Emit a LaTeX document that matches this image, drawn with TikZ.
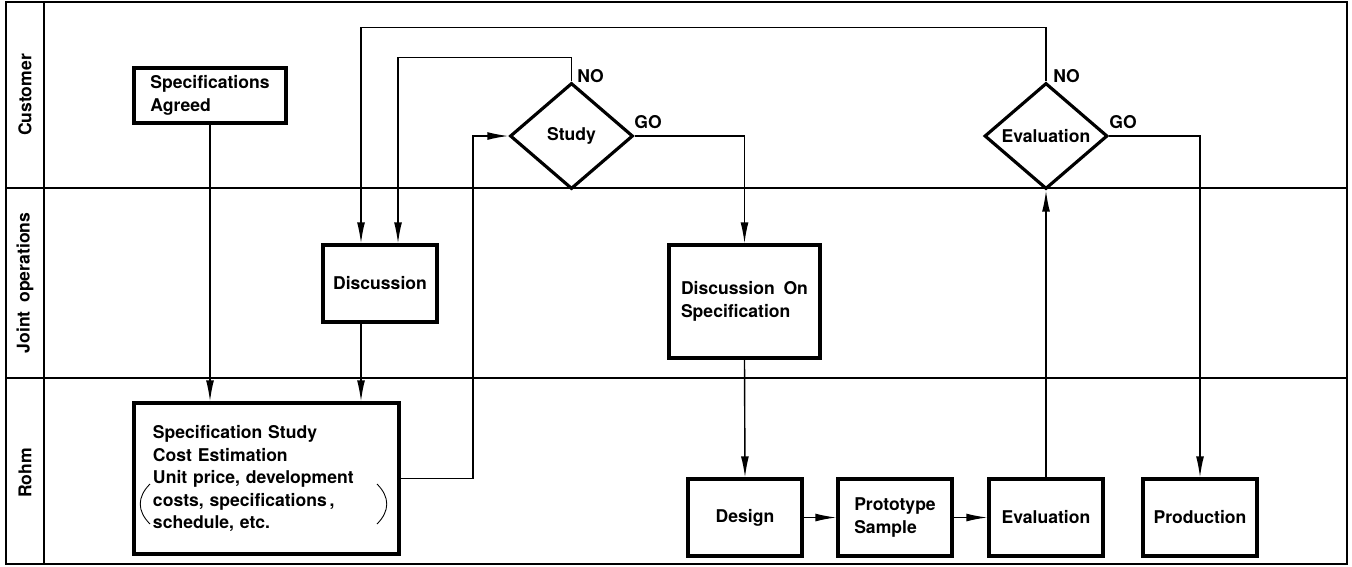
\documentclass[tikz,border=0pt]{standalone}
\usepackage{fontspec}
\setmainfont[WordSpace=1.8]{TeX Gyre Heros}
\usetikzlibrary{shapes,arrows.meta}

\begin{document}
\begin{tikzpicture}[x=0.2mm,y=-0.2mm,
  every node/.style={font=\fontsize{10}{12.8}\selectfont\bfseries},
  box/.style={draw, line width=1.8pt, minimum width=2.28cm, minimum height=1.54cm, inner sep=0pt},
  decision/.style={draw, diamond, line width=1.8pt, minimum width=2.46cm, minimum height=2.12cm, inner sep=0pt, shape aspect=1.16},
  flow/.style={line width=0.8pt, -{Latex[length=12pt,width=4.5pt]}},
  lane/.style={rotate=90, inner sep=0pt},
  answer/.style={anchor=base west, inner sep=0pt}]
\useasboundingbox (0,0) rectangle (1352,566);

% frame and lanes
\draw[line width=1.5pt] (6,2) rectangle (1347,564);
\draw[line width=0.6pt] (44,2) -- (44,564);
\draw[line width=0.6pt] (6,188) -- (1347,188);
\draw[line width=0.6pt] (6,378) -- (1347,378);

\node[lane] (customer) at (25,95) {Customer};
\node[lane] (joint) at (25,283) {Joint operations};
\node[lane] (rohm) at (25,473) {Rohm};

% steps
\node[box, minimum width=3.04cm, minimum height=1.1cm, align=left] (agreed) at (210,95.5) {Specifications\\Agreed};
\node[box] (disc) at (380,283.5) {Discussion};
\node[box, minimum width=5.3cm, minimum height=3.02cm, align=left, text width=4.54cm] (spec) at (266.5,478.5)
  {Specification Study\\Cost Estimation\\Unit price, development\\costs, specifications\,,\\schedule, etc.};
\node[decision] (study) at (571.5,136) {Study};
\node[box, minimum width=3.02cm, minimum height=2.26cm, align=left] (discspec) at (744.5,301.5) {Discussion On\\Specification};
\node[box] (design) at (745,517.5) {Design};
\node[box, align=left] (proto) at (895,517.5) {Prototype\\Sample};
\node[box] (evalb) at (1046,517.5) {Evaluation};
\node[decision] (evald) at (1046,136) {Evaluation};
\node[box] (prod) at (1200,517.5) {Production};

% brackets round the cost items
\draw[line width=0.5pt] (150,484) .. controls (137,497) and (137,511) .. (150,524);
\draw[line width=0.5pt] (377,484) .. controls (390,497) and (390,511) .. (377,524);

\node[answer] (no1) at (577,82) {NO};
\node[answer] (go1) at (634,128) {GO};
\node[answer] (no2) at (1053,82) {NO};
\node[answer] (go2) at (1109,128) {GO};

\coordinate (up) at (473,136);

\draw[flow] (agreed) -- (agreed |- spec.north);
\draw[flow] (disc.south -| 361,0) -- (spec.north -| 361,0);
\draw[flow] (spec.east) -| (up) -- (study.west);
\draw[flow] (study.north) -- ++(0,-24) -| (disc.north -| 398,0);
\draw[flow] (study.east) -| (discspec.north);
\draw[flow] (discspec.south) -- (design.north);
\draw[flow] (design) -- (proto);
\draw[flow] (proto) -- (evalb);
\draw[flow] (evalb) -- (evald);
\draw[flow] (evald.north) -- ++(0,-54) -| (disc.north -| 361,0);
\draw[flow] (evald.east) -| (prod.north);

\end{tikzpicture}
\end{document}
